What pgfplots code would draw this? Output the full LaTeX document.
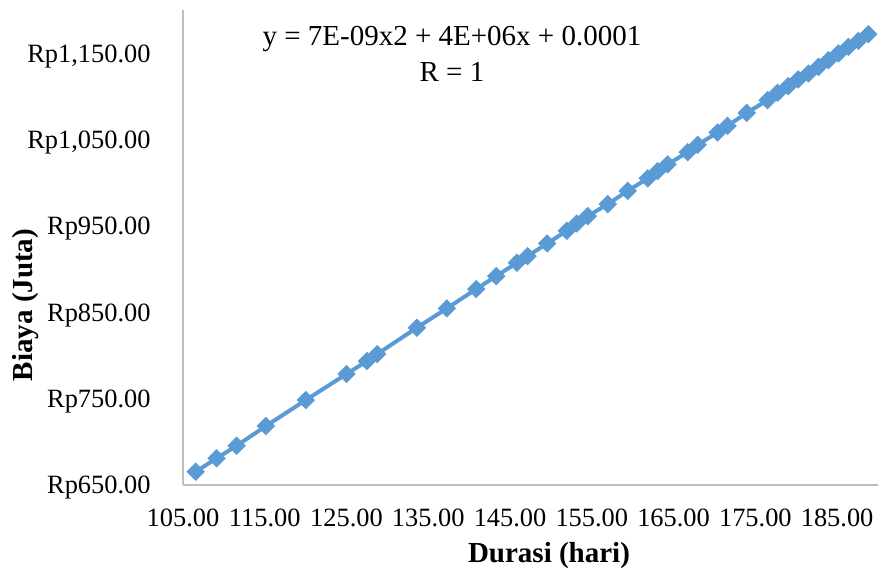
\documentclass[border=0pt]{standalone}
\usepackage{fontspec}
\setmainfont{Liberation Serif}
\usepackage{pgfplots}
\pgfplotsset{compat=1.18}
\definecolor{exblue}{HTML}{5B9BD5}
\definecolor{axgray}{HTML}{BFBFBF}
\begin{document}
\begin{tikzpicture}
\begin{axis}[
  name=ax,
  scale only axis,
  width=347.5pt, height=237.5pt,
  xmin=105, xmax=190, ymin=650, ymax=1200,
  axis lines=left,
  axis line style={draw=axgray, line width=0.75pt, -},
  major tick length=0pt,
  xtick={105,115,125,135,145,155,165,175,185},
  xticklabels={105.00,115.00,125.00,135.00,145.00,155.00,165.00,175.00,185.00},
  ytick={650,750,850,950,1050,1150},
  yticklabels={Rp650.00,Rp750.00,Rp850.00,Rp950.00,{Rp1,050.00},{Rp1,150.00}},
  tick label style={font=\fontsize{13.2}{15}\selectfont, inner sep=0pt},
  xticklabel style={anchor=center, yshift=-16.5pt},
  yticklabel style={anchor=east, xshift=-16pt, yshift=-1.5pt},
  /pgf/number format/assume math mode=true,
  xlabel={Durasi (hari)},
  ylabel={Biaya (Juta)},
  label style={font=\fontsize{14.5}{17}\selectfont\bfseries},
  xlabel style={at={(axis description cs:0.5266,-0.1495)}, anchor=center},
  ylabel style={at={(axis description cs:-0.2259,0.379)}, anchor=center, rotate=0},
  clip=false,
]
\addplot[color=exblue, line width=2pt, mark=square*, mark size=3pt,
  mark options={rotate=45, fill=exblue, draw=exblue, line width=0.5pt}]
coordinates {
(106.55,665.4) (109.11,680.9) (111.56,695.5) (115.14,718.3) (120.02,748.4)
(125.00,778.5) (127.50,793.5) (128.75,801.6) (133.60,832.1) (137.27,854.5)
(140.86,876.9) (143.31,891.9) (145.83,907.3) (147.14,915.0) (149.54,929.7)
(151.94,944.3) (153.16,952.8) (154.50,961.3) (156.95,975.2) (159.39,990.6)
(161.83,1005.0) (163.05,1013.4) (164.27,1021.2) (166.72,1035.4) (167.94,1043.9)
(170.38,1058.2) (171.60,1065.9) (173.95,1080.9) (176.49,1095.6) (177.71,1104.1)
(179.02,1111.8) (180.24,1119.6) (181.50,1126.5) (182.72,1134.1) (183.94,1141.9)
(185.16,1149.7) (186.38,1157.3) (187.60,1164.2) (188.82,1172.0)
};
\node[align=center, font=\fontsize{14.5}{18}\selectfont, inner sep=0pt]
  at (axis description cs:0.387,0.907) {y = 7E-09x2 + 4E+06x + 0.0001\\R = 1};
\end{axis}
\pgfresetboundingbox
\path[use as bounding box] ([shift={(-91.5pt,-45.5pt)}]ax.south west) rectangle ([shift={(0.5pt,5pt)}]ax.north east);
\end{tikzpicture}
\end{document}
